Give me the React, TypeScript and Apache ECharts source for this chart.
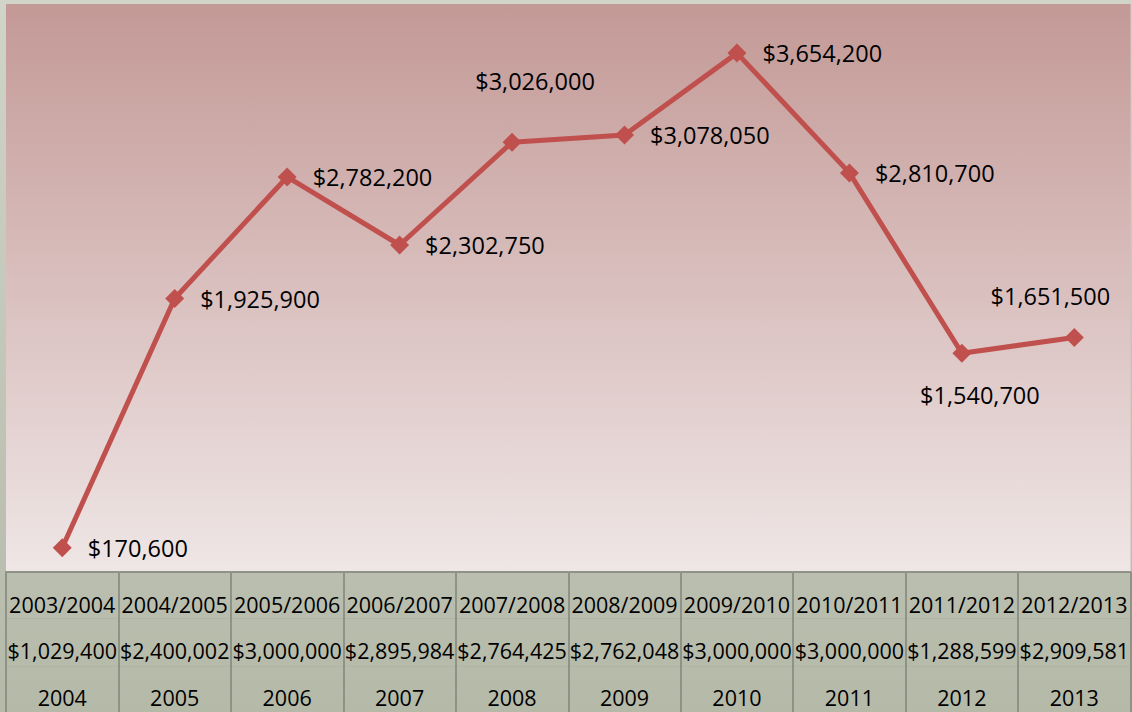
import React, { useEffect, useRef } from "react";
import * as echarts from "echarts";

const categories = ["2003/2004", "2004/2005", "2005/2006", "2006/2007", "2007/2008", "2008/2009", "2009/2010", "2010/2011", "2011/2012", "2012/2013"];
const budgets = [1029400, 2400002, 3000000, 2895984, 2764425, 2762048, 3000000, 3000000, 1288599, 2909581];
const years = ["2004", "2005", "2006", "2007", "2008", "2009", "2010", "2011", "2012", "2013"];
const amounts = [170600, 1925900, 2782200, 2302750, 3026000, 3078050, 3654200, 2810700, 1540700, 1651500];

// label placement overrides (index -> style)
const labelPlacement: Record<number, any> = {
  4: { position: "top", distance: 40, offset: [23, 0] },
  8: { position: "bottom", distance: 20, offset: [18, 0] },
  9: { position: "top", distance: 20, offset: [-24, 0] },
};

const money = (v: number) => "$" + v.toLocaleString("en-US");

export default function App() {
  const ref = useRef<HTMLDivElement>(null);
  useEffect(() => {
    const chart = echarts.init(ref.current!, null, { renderer: "svg" });
    const font = "'Open Sans', 'Noto Sans', sans-serif";
    const tableLabel = (margin: number) => ({
      interval: 0,
      margin,
      fontFamily: font,
      fontSize: 21.5,
      lineHeight: 22,
      color: "#000",
    });
    chart.setOption({
      animation: false,
      backgroundColor: new echarts.graphic.LinearGradient(0, 0, 0, 1, [
        { offset: 0, color: "#d0d4c9" },
        { offset: 1, color: "#b5b9a8" },
      ]),
      grid: {
        left: 6,
        right: 0,
        top: 4,
        bottom: 140,
        show: true,
        borderWidth: 0,
        backgroundColor: new echarts.graphic.LinearGradient(0, 0, 0, 1, [
          { offset: 0, color: "#c39996" },
          { offset: 1, color: "#efe6e6" },
        ]),
      },
      xAxis: [
        {
          type: "category",
          data: categories,
          position: "bottom",
          boundaryGap: true,
          axisLine: { show: true, lineStyle: { color: "#8f9287", width: 2 } },
          axisTick: { show: true, interval: 0, length: 140, lineStyle: { color: "#8f9287", width: 2 } },
          axisLabel: tableLabel(21),
        },
        {
          type: "category",
          data: budgets.map(money),
          position: "bottom",
          offset: 46,
          boundaryGap: true,
          axisLine: { show: true, lineStyle: { color: "#b0b4a4", width: 1 } },
          axisTick: { show: false },
          axisLabel: tableLabel(21),
        },
        {
          type: "category",
          data: years,
          position: "bottom",
          offset: 94,
          boundaryGap: true,
          axisLine: { show: true, lineStyle: { color: "#b0b4a4", width: 1 } },
          axisTick: { show: false },
          axisLabel: tableLabel(20),
        },
      ],
      yAxis: {
        type: "value",
        min: 0,
        max: 4000000,
        show: false,
        splitLine: { show: false },
      },
      series: [
        {
          type: "line",
          xAxisIndex: 0,
          data: amounts.map((v, i) => ({
            value: v,
            label: labelPlacement[i] ? { ...labelPlacement[i] } : undefined,
          })),
          symbol: "diamond",
          symbolSize: 19,
          lineStyle: { color: "#c0504d", width: 5 },
          itemStyle: { color: "#c0504d" },
          label: {
            show: true,
            position: "right",
            distance: 16,
            formatter: (p: any) => money(p.value),
            fontFamily: font,
            fontSize: 23.5,
            color: "#000",
          },
        },
      ],
    });
    return () => chart.dispose();
  }, []);
  return (
    <div
      ref={ref}
      style={{ position: "fixed", left: 0, top: 0, width: 1132, height: 712 }}
    />
  );
}
